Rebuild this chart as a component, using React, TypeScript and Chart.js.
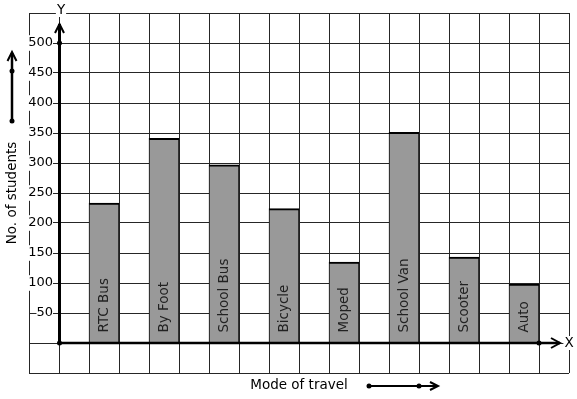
import { useEffect, useRef } from 'react';
import { Chart, registerables } from 'chart.js';

Chart.register(...registerables);

const categories = ['RTC Bus', 'By Foot', 'School Bus', 'Bicycle', 'Moped', 'School Van', 'Scooter', 'Auto'];
const students = [233, 341, 297, 224, 135, 351, 143, 98];
const yTickValues = [50, 100, 150, 200, 250, 300, 350, 400, 450, 500];
const xTitle = 'Mode of travel';
const yTitle = 'No. of students';

const FONT_FAMILY = '"DejaVu Sans", Verdana, sans-serif';

export default function App() {
  const ref = useRef<HTMLCanvasElement>(null);

  useEffect(() => {
    const canvas = ref.current;
    if (!canvas) return;

    const dot = (ctx: CanvasRenderingContext2D, x: number, y: number) => {
      ctx.beginPath();
      ctx.arc(x, y, 2.5, 0, Math.PI * 2);
      ctx.fill();
    };
    const line = (ctx: CanvasRenderingContext2D, x1: number, y1: number, x2: number, y2: number) => {
      ctx.beginPath();
      ctx.moveTo(x1, y1);
      ctx.lineTo(x2, y2);
      ctx.stroke();
    };
    const textWithBg = (ctx: CanvasRenderingContext2D, s: string, x: number, y: number) => {
      const w = ctx.measureText(s).width;
      ctx.fillStyle = '#fff';
      ctx.fillRect(x - w / 2 - 1, y - 7, w + 2, 14);
      ctx.fillStyle = '#000';
      ctx.fillText(s, x, y);
    };

    const annotations = {
      id: 'annotations',
      afterDatasetsDraw(chart: any) {
        const ctx = chart.ctx as CanvasRenderingContext2D;
        const meta = chart.getDatasetMeta(0);
        ctx.save();
        ctx.font = `13.5px ${FONT_FAMILY}`;
        ctx.fillStyle = '#222';
        ctx.textAlign = 'left';
        ctx.textBaseline = 'middle';
        meta.data.forEach((bar: any, i: number) => {
          ctx.save();
          ctx.translate(bar.x, bar.base - 10);
          ctx.rotate(-Math.PI / 2);
          ctx.fillText(categories[i], 0, 0);
          ctx.restore();
        });
        ctx.restore();
      },
      afterDraw(chart: any) {
        const ctx = chart.ctx as CanvasRenderingContext2D;
        const xs = chart.scales.x;
        const ys = chart.scales.y;
        const area = chart.chartArea;
        const ox = xs.getPixelForValue(0);
        const oy = ys.getPixelForValue(0);
        ctx.save();
        ctx.strokeStyle = '#000';
        ctx.fillStyle = '#000';
        ctx.lineJoin = 'miter';

        // y axis
        const yTip = area.top + 11;
        ctx.lineWidth = 3;
        line(ctx, ox + 0.5, oy, ox + 0.5, yTip);
        ctx.lineWidth = 2;
        ctx.beginPath();
        ctx.moveTo(ox - 4, yTip + 9);
        ctx.lineTo(ox + 0.5, yTip);
        ctx.lineTo(ox + 5, yTip + 9);
        ctx.stroke();

        // x axis
        const xTip = area.right - 9;
        ctx.lineWidth = 2.5;
        line(ctx, ox, oy, xTip, oy);
        ctx.lineWidth = 2;
        ctx.beginPath();
        ctx.moveTo(xTip - 9, oy - 5);
        ctx.lineTo(xTip, oy);
        ctx.lineTo(xTip - 9, oy + 5);
        ctx.stroke();

        // dots
        dot(ctx, ox + 0.5, oy);
        dot(ctx, ox + 0.5, ys.getPixelForValue(500));
        dot(ctx, xs.getPixelForValue(16), oy);

        ctx.font = `13.5px ${FONT_FAMILY}`;
        ctx.textAlign = 'center';
        ctx.textBaseline = 'middle';
        textWithBg(ctx, 'Y', ox + 2, area.top - 3);
        textWithBg(ctx, 'X', area.right, oy);

        // y title with arrow
        const lx = 12;
        ctx.fillStyle = '#000';
        ctx.save();
        ctx.translate(lx, (area.top + area.bottom) / 2);
        ctx.rotate(-Math.PI / 2);
        ctx.fillText(yTitle, 0, 0);
        ctx.restore();
        ctx.lineWidth = 2.5;
        line(ctx, lx, 121, lx, 53);
        ctx.lineWidth = 2;
        ctx.beginPath();
        ctx.moveTo(lx - 4.5, 61);
        ctx.lineTo(lx, 52);
        ctx.lineTo(lx + 4.5, 61);
        ctx.stroke();
        dot(ctx, lx, 121);
        dot(ctx, lx, 71);

        // x title with arrow
        const by = area.bottom + 12;
        ctx.fillText(xTitle, (area.left + area.right) / 2, by);
        ctx.lineWidth = 2;
        line(ctx, 369, by + 1, 437, by + 1);
        ctx.beginPath();
        ctx.moveTo(430, by - 3);
        ctx.lineTo(438, by + 1);
        ctx.lineTo(430, by + 5);
        ctx.stroke();
        dot(ctx, 369, by + 1);
        dot(ctx, 419, by + 1);

        ctx.restore();
      },
    };

    const gridColor = '#262626';

    const chart = new Chart(canvas, {
      type: 'bar',
      data: {
        datasets: [
          {
            data: categories.map((c, i) => ({ x: 2 * i + 1.5, y: students[i] })),
            backgroundColor: '#999999',
            borderColor: '#000',
            borderWidth: { top: 2, left: 1, right: 1, bottom: 0 },
            barThickness: 30,
            grouped: false,
          } as any,
        ],
      },
      options: {
        responsive: false,
        animation: false,
        devicePixelRatio: 1,
        layout: { padding: { left: 29, top: 13, right: 8, bottom: 26 } },
        plugins: { legend: { display: false }, tooltip: { enabled: false } },
        scales: {
          x: {
            type: 'linear',
            min: -1,
            max: 17,
            offset: false,
            position: 'bottom',
            ticks: { display: false, stepSize: 1 },
            grid: { color: gridColor, lineWidth: 1, drawTicks: false, offset: false },
            border: { display: false },
          },
          y: {
            type: 'linear',
            min: -50,
            max: 550,
            position: 'left',
            ticks: { display: false, stepSize: 50 },
            grid: { color: gridColor, lineWidth: 1, drawTicks: false },
            border: { display: false },
          },
          yl: {
            type: 'linear',
            axis: 'y',
            position: { x: -0.2 },
            min: -50,
            max: 550,
            afterBuildTicks: (scale: any) => {
              scale.ticks = yTickValues.map((v) => ({ value: v }));
            },
            grid: { display: false, drawTicks: false },
            border: { display: false },
            ticks: {
              color: '#000',
              font: { size: 13, family: FONT_FAMILY },
              padding: 0,
              showLabelBackdrop: true,
              backdropColor: '#fff',
              backdropPadding: 0,
              z: 1,
            },
          } as any,
        },
      },
      plugins: [annotations],
    });

    return () => chart.destroy();
  }, []);

  return (
    <div style={{ position: 'absolute', left: 0, top: 0, width: 577, height: 399, background: '#fff' }}>
      <canvas ref={ref} width={577} height={399} style={{ display: 'block', width: 577, height: 399 }} />
    </div>
  );
}
